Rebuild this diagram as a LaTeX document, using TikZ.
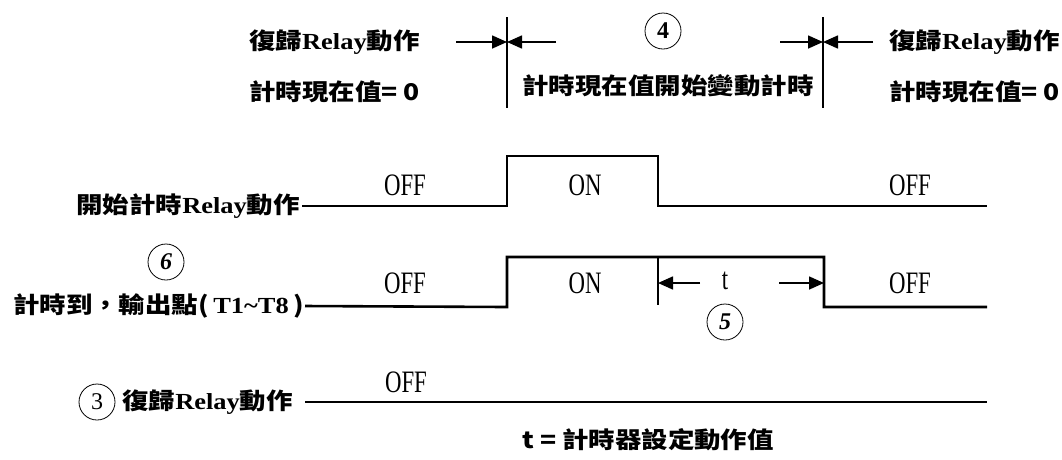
\documentclass[tikz,border=0pt]{standalone}
\usepackage{fontspec}
\usepackage{graphicx}
\setmainfont{Liberation Serif}
\newfontfamily\cjk{Noto Sans CJK TC}
\usetikzlibrary{arrows.meta,positioning}
\newcommand\zh[1]{{\cjk\bfseries#1}}
\newcommand\lbl[1]{\scalebox{1.15}[1]{\fontsize{23}{26}\selectfont\bfseries#1}}
\newcommand\tall[1]{\scalebox{.95}[1.3]{#1}}

\begin{document}
\begin{tikzpicture}[x=1pt,y=-1pt,>={Triangle[length=15pt,width=13pt]},
  wave/.style={line width=2.6pt},tick/.style={line width=1.4pt},arr/.style={->,line width=1.6pt},
  num/.style={draw,circle,line width=.8pt,minimum size=36pt,inner sep=0pt,font=\fontsize{24}{24}\selectfont\bfseries},
  state/.style={font=\fontsize{24}{24}\selectfont},lab/.style={inner sep=0pt}]
\useasboundingbox (0,0) rectangle (1062,459);
% top: reset / counting window
\node[lab,anchor=west] (rstL) at (249,42) {\lbl{\zh{復歸}Relay\zh{動作}}};
\node[lab,anchor=west] (zeroL) at (249,92) {\lbl{\zh{計時現在值= 0}}};
\node[lab] (cnt) at (668,86) {\lbl{\zh{計時現在值開始變動計時}}};
\node[num] (n4) at (663,31) {4};
\node[lab,anchor=west] (rstR) at (889,42) {\lbl{\zh{復歸}Relay\zh{動作}}};
\node[lab,anchor=west] (zeroR) at (889,92) {\lbl{\zh{計時現在值= 0}}};
\coordinate (s1) at (507,17);\coordinate (s2) at (507,108);\coordinate (e1) at (823,17);\coordinate (e2) at (823,108);
\draw[tick](s1)--(s2);\draw[tick](e1)--(e2);
\coordinate (p1) at (456,42);\coordinate (p2) at (556,42);\coordinate (p3) at (780,42);\coordinate (p4) at (873,42);
\draw[arr](p1)--(s1|-p1);\draw[arr](p2)--(s1|-p2);\draw[arr](p3)--(e1|-p3);\draw[arr](p4)--(e1|-p4);
% row A: start relay
\node[lab,anchor=east] (la) at (300,206) {\lbl{\zh{開始計時}Relay\zh{動作}}};
\draw[wave,shorten <=2pt](la.east)--(507,206)|-(658,156)|-(987,206);
\node[state] (a1) at (405,185) {\tall{OFF}};\node[state] (a2) at (585,185) {\tall{ON}};\node[state] (a3) at (910,185) {\tall{OFF}};
% row B: timer output
\node[lab,anchor=east] (lb) at (304,306) {\lbl{\zh{計時到，輸出點(}\,T1\textasciitilde T8\,\zh{)}}};
\node[num,font=\fontsize{24}{24}\selectfont\bfseries\itshape] (n6) at (166,262) {6};
\draw[wave,shorten <=1pt](lb.east)--(507,307)|-(824,257)|-(987,307);
\coordinate (m1) at (658,257);\coordinate (m2) at (658,305);\draw[tick](m1)--(m2);
\node[state] (b1) at (405,283) {\tall{OFF}};\node[state] (b2) at (585,283) {\tall{ON}};\node[state] (b3) at (910,283) {\tall{OFF}};
\node[state] (t) at (725,281) {\tall{t}};
\coordinate (q1) at (700,283);\coordinate (q2) at (779,283);
\draw[arr](q1)--(m1|-q1);\draw[arr](q2)--(824,283);
\node[num,font=\fontsize{24}{24}\selectfont\bfseries\itshape] (n5) at (725,322) {5};
% row C: reset relay
\node[num,font=\fontsize{24}{24}\selectfont] (n3) at (97,402) {3};
\node[lab,anchor=east] (lc) at (293,402) {\lbl{\zh{復歸}Relay\zh{動作}}};
\draw[wave,shorten <=12pt](lc.east)--(987,402);
\node[state] (c1) at (406,382) {\tall{OFF}};
\node[lab] (def) at (648,440) {\lbl{\zh{t = 計時器設定動作值}}};
\end{tikzpicture}
\end{document}
